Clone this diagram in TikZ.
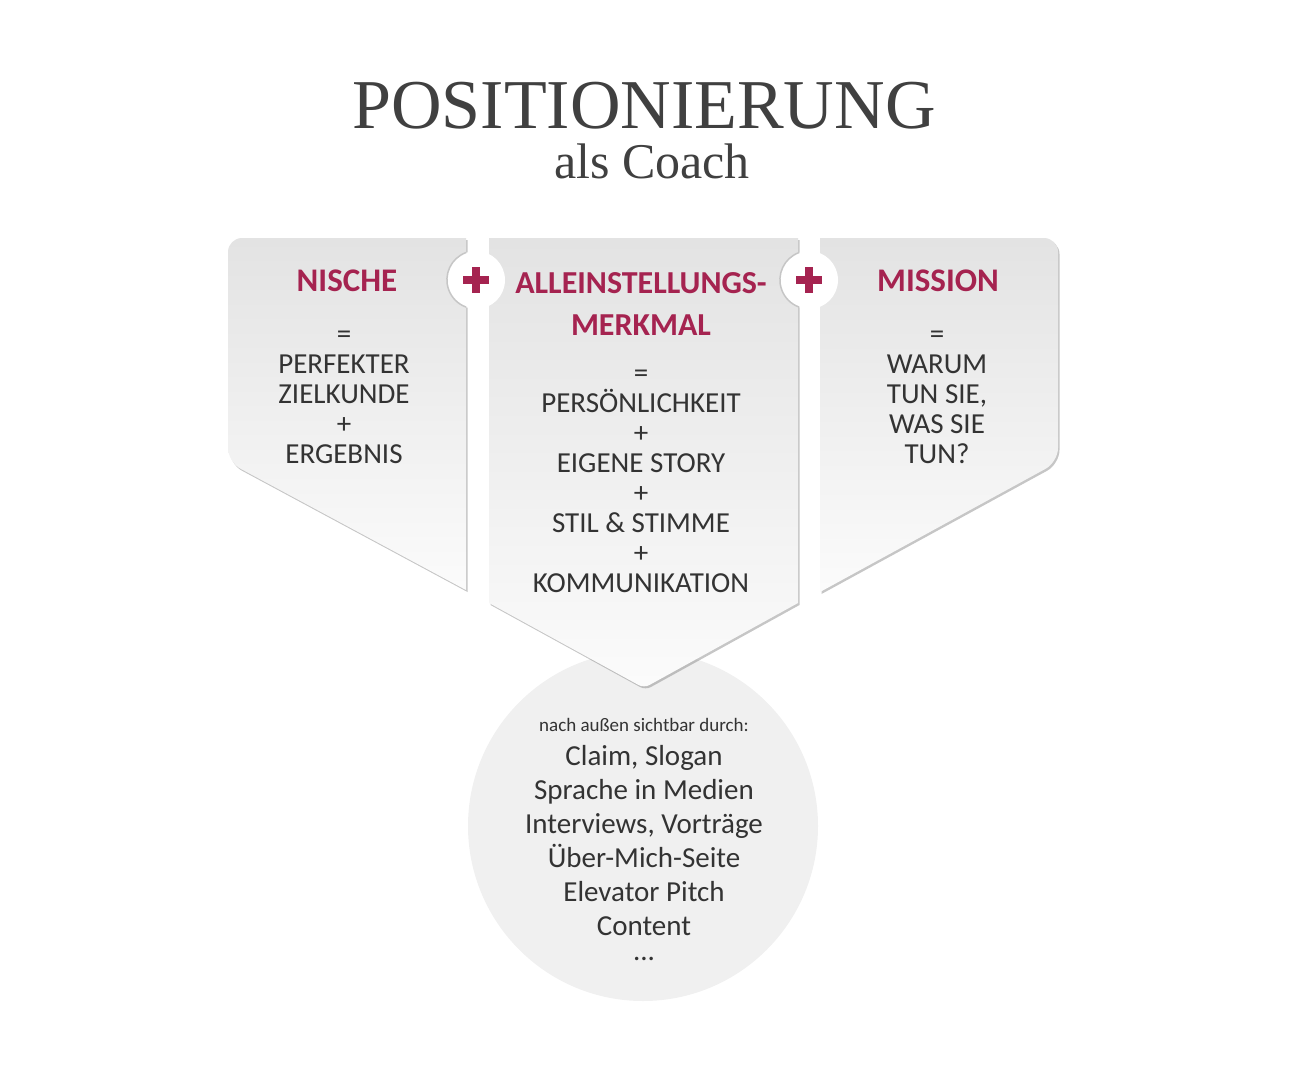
\documentclass[tikz,border=0pt]{standalone}
\usepackage{fontspec}
\setmainfont{Carlito}
\newfontfamily\titlefont{Liberation Serif}
\usetikzlibrary{shadows}
\definecolor{accent}{HTML}{A52350}
\definecolor{textgray}{HTML}{333333}
\definecolor{titlegray}{HTML}{404040}
\definecolor{discgray}{HTML}{F0F0F0}
\tikzset{
    panel/.style={top color=gray!22,bottom color=gray!3,
        drop shadow={shadow xshift=1.5pt,shadow yshift=-2pt,opacity=.45}},
    heading/.style={text=accent,font=\fontsize{33}{42}\selectfont\bfseries,align=center},
    body/.style={text=textgray,font=\fontsize{29}{30}\selectfont,align=center},
    listtext/.style={text=textgray,font=\fontsize{29}{34}\selectfont,align=center,inner sep=0pt},
    rim/.style={draw=gray!45,line width=1.5pt},
    cutout/.style={circle,fill=white,minimum size=58pt,inner sep=0pt,
        path picture={
            \fill[accent] ([xshift=-13pt,yshift=-4.2pt]path picture bounding box.center)
                rectangle ([xshift=13pt,yshift=4.2pt]path picture bounding box.center);
            \fill[accent] ([xshift=-4.2pt,yshift=-13pt]path picture bounding box.center)
                rectangle ([xshift=4.2pt,yshift=13pt]path picture bounding box.center);
        }},
}
\begin{document}
\begin{tikzpicture}[x=1pt,y=-1pt]
    \useasboundingbox (0,0) rectangle (1300,1084);
    % title
    \node[text=titlegray,font=\titlefont\fontsize{70}{70}\selectfont,anchor=base,inner sep=0pt] (titel) at (644,128) {POSITIONIERUNG};
    \node[text=titlegray,font=\titlefont\fontsize{50}{50}\selectfont,anchor=base,inner sep=0pt] (untertitel) at (652,178) {als Coach};
    % disc below
    \node[circle,fill=discgray,minimum size=350pt,inner sep=0pt] (disc) at (643,826) {};
    % panels
    \path[panel] (466,238) [rounded corners=14pt] -- (228,238) -- (228,462) [sharp corners] -- (466,590) -- cycle;
    \path[panel] (489,238) -- (798,238) -- (798,603) [rounded corners=6pt] -- (644,688) [sharp corners] -- (489,603) -- cycle;
    \path[panel] (820,238) [rounded corners=14pt] -- (1058,238) -- (1058,462) [sharp corners] -- (820,592) -- cycle;
    % plus
    \node[cutout] (plusA) at (476,280) {};
    \node[cutout] (plusB) at (809,280) {};
    \draw[rim] (plusA.110) arc[start angle=110,end angle=250,radius=29pt];
    \draw[rim] (plusB.110) arc[start angle=110,end angle=250,radius=29pt];
    % texts
    \node[heading] (nische) at (347,281) {NISCHE};
    \node[body] (nischeText) at (344,397) {=\\PERFEKTER\\ZIELKUNDE\\+\\ERGEBNIS};
    \node[heading,font=\fontsize{32}{42}\selectfont\bfseries] (usp) at (641,304) {ALLEINSTELLUNGS-\\MERKMAL};
    \node[body] (uspText) at (641,481) {=\\PERSÖNLICHKEIT\\+\\EIGENE STORY\\+\\STIL \& STIMME\\+\\KOMMUNIKATION};
    \node[heading] (mission) at (938,281) {MISSION};
    \node[body] (missionText) at (937,397) {=\\WARUM\\TUN SIE,\\WAS SIE\\TUN?};
    \node[text=textgray,font=\fontsize{19}{19}\selectfont] (aussen) at (644,725) {nach außen sichtbar durch:};
    \node[listtext] (kanaele) at (644,841) {Claim, Slogan\\Sprache in Medien\\Interviews, Vorträge\\Über-Mich-Seite\\Elevator Pitch\\Content};
    \node[listtext,text height=4pt,text depth=0pt] (dots) at (644,958) {...};
\end{tikzpicture}
\end{document}
